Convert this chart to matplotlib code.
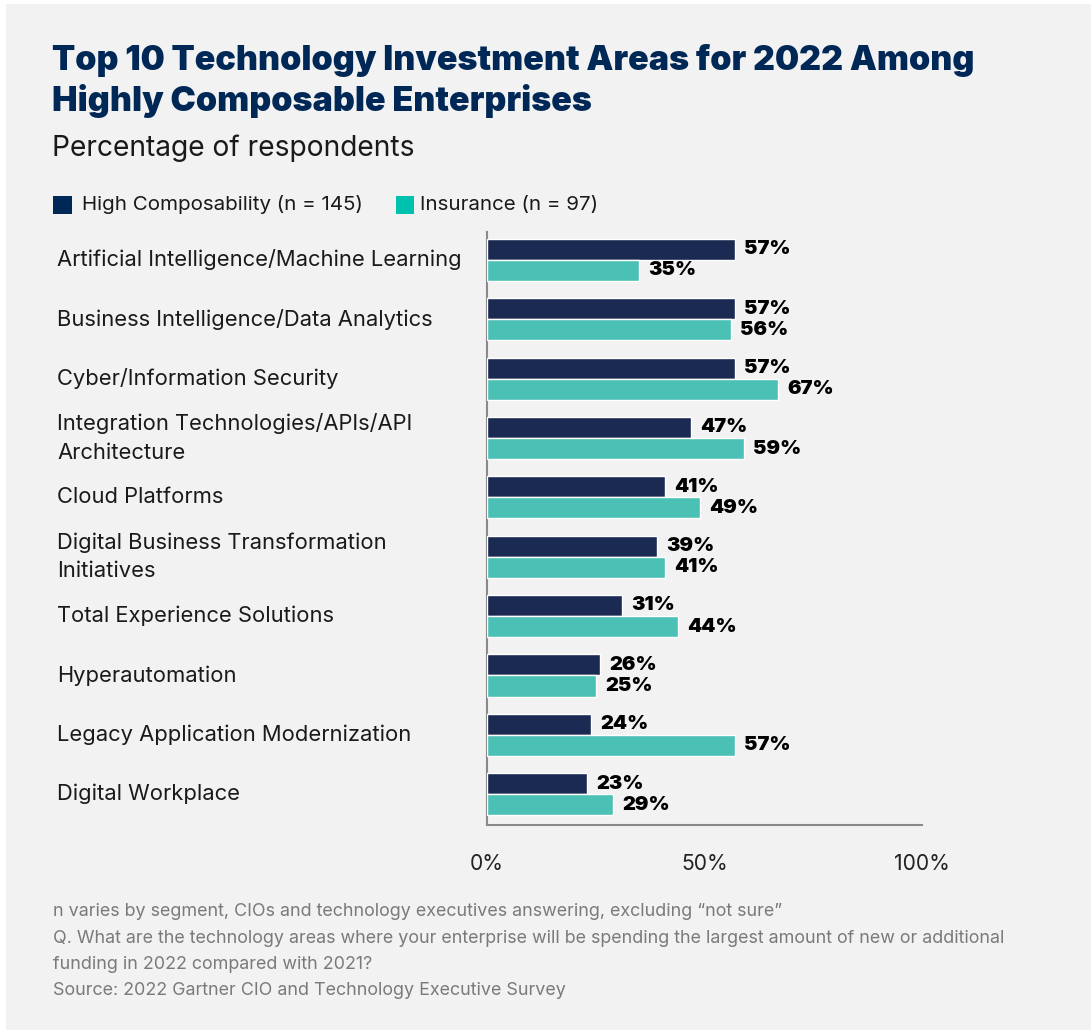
import matplotlib
matplotlib.use("Agg")
import matplotlib.pyplot as plt
from matplotlib.patches import Rectangle

# Survey results (% of respondents)
categories = [
    "Artificial Intelligence/Machine Learning",
    "Business Intelligence/Data Analytics",
    "Cyber/Information Security",
    "Integration Technologies/APIs/API\nArchitecture",
    "Cloud Platforms",
    "Digital Business Transformation\nInitiatives",
    "Total Experience Solutions",
    "Hyperautomation",
    "Legacy Application Modernization",
    "Digital Workplace",
]
high_composability = [57, 57, 57, 47, 41, 39, 31, 26, 24, 23]
insurance = [35, 56, 67, 59, 49, 41, 44, 25, 57, 29]
series_names = ["High Composability (n = 145)", "Insurance (n = 97)"]
x_ticks = [0, 50, 100]
x_tick_labels = ["0%", "50%", "100%"]

title = "Top 10 Technology Investment Areas for 2022 Among\nHighly Composable Enterprises"
subtitle = "Percentage of respondents"
footnotes = [
    "n varies by segment, CIOs and technology executives answering, excluding \u201cnot sure\u201d",
    "Q. What are the technology areas where your enterprise will be spending the largest amount of new or additional",
    "funding in 2022 compared with 2021?",
    "Source: 2022 Gartner CIO and Technology Executive Survey",
]

NAVY = "#1b2a52"
TEAL = "#4bc0b4"
NAVY_KEY = "#002856"
TEAL_KEY = "#00c0ae"
BG = "#f2f2f2"
FONT = ["Inter", "DejaVu Sans"]

W, H = 1091, 1030
fig = plt.figure(figsize=(W / 100, H / 100), dpi=100)
fig.patch.set_facecolor("white")

def fx(px):
    return px / W

def fy(py):
    return 1 - py / H

# gray card behind everything
card = Rectangle((fx(6), 0), 1 - fx(6), fy(4), transform=fig.transFigure,
                 facecolor=BG, edgecolor="none", zorder=-10)
fig.patches.append(card)

ax = fig.add_axes([fx(487), fy(825), fx(922) - fx(487), fy(232) - fy(825)])
ax.set_facecolor("none")
ax.set_zorder(1)

n = len(categories)
pos = list(range(n))
h = 0.355
off = 0.178
ax.barh([p - off for p in pos], high_composability, height=h, color=NAVY,
        edgecolor="white", linewidth=1.0, zorder=3)
ax.barh([p + off for p in pos], insurance, height=h, color=TEAL,
        edgecolor="white", linewidth=1.0, zorder=3)

for p, v in zip(pos, high_composability):
    ax.text(v + 2.1, p - off, f"{v}%", va="center", ha="left", fontsize=14.5,
            fontweight="black", color="black", family=FONT)
for p, v in zip(pos, insurance):
    ax.text(v + 2.1, p + off, f"{v}%", va="center", ha="left", fontsize=14.5,
            fontweight="black", color="black", family=FONT)

ax.set_xlim(0, 100)
ax.set_ylim(n - 1 + 0.52, -0.47)
ax.set_yticks([])
ax.set_xticks(x_ticks)
ax.set_xticklabels(x_tick_labels, fontsize=15.2, color="#222222", family=FONT)
ax.tick_params(axis="x", length=0, pad=21)
for s in ["top", "right"]:
    ax.spines[s].set_visible(False)
for s in ["left", "bottom"]:
    ax.spines[s].set_color("#8a8a8a")
    ax.spines[s].set_linewidth(1.5)

# category labels, left-aligned in the margin
for p, c in zip(pos, categories):
    ycen = ax.transData.transform((0, p))[1]
    yfig = fig.transFigure.inverted().transform((0, ycen))[1]
    fig.text(fx(57), yfig, c, ha="left", va="center", fontsize=15.8,
             color="#1a1a1a", family=FONT, linespacing=1.55)

# title block
fig.text(fx(52), fy(44), title, ha="left", va="top", fontsize=24.5,
         fontweight="black", color=NAVY_KEY, family=FONT, linespacing=1.25)
fig.text(fx(52), fy(148), subtitle, ha="left", va="center", fontsize=20.3,
         color="#1a1a1a", family=FONT)

# legend
fig.patches.append(Rectangle((fx(53), fy(214)), fx(19), fy(196) - fy(214),
                             transform=fig.transFigure, facecolor=NAVY_KEY, edgecolor="none"))
fig.text(fx(82), fy(205), series_names[0], ha="left", va="center", fontsize=14.8,
         color="#1a1a1a", family=FONT)
fig.patches.append(Rectangle((fx(396), fy(214)), fx(18), fy(196) - fy(214),
                             transform=fig.transFigure, facecolor=TEAL_KEY, edgecolor="none"))
fig.text(fx(420), fy(205), series_names[1], ha="left", va="center", fontsize=14.8,
         color="#1a1a1a", family=FONT)

# footnotes
for i, line in enumerate(footnotes):
    fig.text(fx(53), fy(912 + 26.3 * i), line, ha="left", va="center", fontsize=12.9,
             color="#7a7a7a", family=FONT)

fig.savefig("out.png", dpi=100, facecolor=fig.get_facecolor())
